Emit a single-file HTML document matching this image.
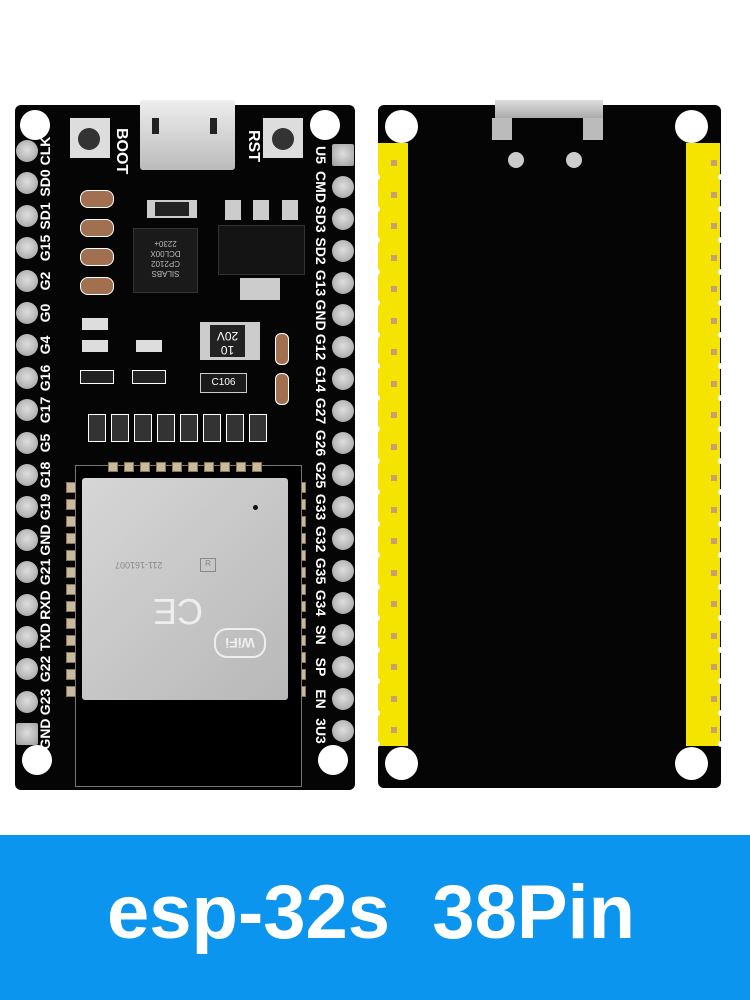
<!DOCTYPE html>
<html><head><meta charset="utf-8"><style>
body{margin:0;width:750px;height:1000px;background:#fff;position:relative;overflow:hidden;font-family:"Liberation Sans",sans-serif}
.a{position:absolute}
.board{background:#050505;border-radius:6px}
.hole{position:absolute;width:30px;height:30px;border-radius:50%;background:#fff}
.pin{position:absolute;width:22px;height:22px;border-radius:50%;background:radial-gradient(circle at 50% 45%,#ddd 0,#c4c4c4 40%,#9a9a9a 100%)}
.lbl{position:absolute;color:#fff;font-weight:bold;font-size:14px;width:40px;height:16px;line-height:16px;text-align:center}
.yl{position:absolute;background:#f5e400}
.sq{position:absolute;width:6px;height:6px;background:#c9a070}
.pad{position:absolute;background:#c8b9a0;border:1px solid #8a7650}
</style></head><body>
<!-- left board -->
<div class="a board" style="left:15px;top:105px;width:340px;height:685px"></div>
<div class="hole" style="left:20px;top:110px"></div>
<div class="hole" style="left:310px;top:110px"></div>
<div class="hole" style="left:22px;top:745px"></div>
<div class="hole" style="left:318px;top:745px"></div>
<!-- usb -->
<div class="a" style="left:140px;top:100px;width:95px;height:70px;background:linear-gradient(#eee,#bbb);border-radius:3px"></div>
<div class="a" style="left:152px;top:118px;width:7px;height:16px;background:#222"></div>
<div class="a" style="left:210px;top:118px;width:7px;height:16px;background:#222"></div>
<!-- buttons -->
<div class="a" style="left:70px;top:118px;width:40px;height:40px;background:#ddd"></div>
<div class="a" style="left:78px;top:128px;width:22px;height:22px;border-radius:50%;background:#333"></div>
<div class="a" style="left:263px;top:118px;width:40px;height:40px;background:#ddd"></div>
<div class="a" style="left:272px;top:128px;width:22px;height:22px;border-radius:50%;background:#333"></div>
<div class="a" style="left:130px;top:128px;color:#fff;font-weight:bold;font-size:16px;transform:rotate(90deg);transform-origin:left top">BOOT</div>
<div class="a" style="left:262px;top:130px;color:#fff;font-weight:bold;font-size:16px;transform:rotate(90deg);transform-origin:left top">RST</div>
<!-- chips -->
<div class="a" style="left:133px;top:228px;width:65px;height:65px;background:#1a1a1a;border:1px solid #333;color:#bbb;font-size:8px;line-height:10px;text-align:center;padding-top:14px;box-sizing:border-box;transform:rotate(180deg)">SILABS<br>CP2102<br>DCL00X<br>2230+</div>
<div class="a" style="left:218px;top:225px;width:85px;height:48px;background:#141414;border:1px solid #333"></div>
<div class="a" style="left:225px;top:200px;width:16px;height:20px;background:#ccc"></div>
<div class="a" style="left:253px;top:200px;width:16px;height:20px;background:#ccc"></div>
<div class="a" style="left:282px;top:200px;width:16px;height:20px;background:#ccc"></div>
<div class="a" style="left:240px;top:278px;width:40px;height:22px;background:#ccc"></div>
<div class="a" style="left:200px;top:322px;width:60px;height:38px;background:#ccc"></div>
<div class="a" style="left:210px;top:325px;width:35px;height:32px;background:#222;color:#fff;font-size:12px;line-height:14px;text-align:center;transform:rotate(180deg)">10<br>20V</div>
<div class="a" style="left:200px;top:373px;width:45px;height:18px;background:#1a1a1a;border:1px solid #ccc;color:#fff;font-size:10px;line-height:18px;text-align:center">C106</div>
<div class="a" style="left:147px;top:200px;width:50px;height:18px;background:#ccc"></div>
<div class="a" style="left:155px;top:202px;width:34px;height:14px;background:#222"></div>
<div id="comps"></div>
<!-- module -->
<div class="a" style="left:75px;top:465px;width:225px;height:320px;border:1px solid #777;background:#000"></div>
<div class="a" style="left:82px;top:478px;width:206px;height:222px;background:linear-gradient(135deg,#d6d6d6,#b8b8b8);border-radius:3px"></div>
<div class="a" style="left:200px;top:558px;width:14px;height:12px;border:1px solid #888;font-size:8px;color:#888;text-align:center">R</div>
<div class="a" style="left:115px;top:560px;font-size:9px;color:#888;transform:rotate(180deg)">211-161007</div>
<div class="a" style="left:153px;top:590px;font-size:36px;color:#eee;transform:rotate(180deg)">CE</div>
<div class="a" style="left:214px;top:628px;width:48px;height:26px;border-radius:13px;border:2px solid #eee;color:#eee;font-size:14px;font-weight:bold;text-align:center;line-height:26px;transform:rotate(180deg)">WiFi</div>
<div class="a" style="left:253px;top:505px;width:5px;height:5px;border-radius:50%;background:#111"></div>
<!-- right board -->
<div class="a board" style="left:378px;top:105px;width:343px;height:683px"></div>
<div class="hole" style="left:385px;top:110px;width:33px;height:33px"></div>
<div class="hole" style="left:675px;top:110px;width:33px;height:33px"></div>
<div class="hole" style="left:385px;top:747px;width:33px;height:33px"></div>
<div class="hole" style="left:675px;top:747px;width:33px;height:33px"></div>
<div class="a" style="left:495px;top:100px;width:108px;height:18px;background:linear-gradient(#ddd,#aaa)"></div>
<div class="a" style="left:492px;top:118px;width:20px;height:22px;background:#bbb"></div>
<div class="a" style="left:583px;top:118px;width:20px;height:22px;background:#bbb"></div>
<div class="a" style="left:508px;top:152px;width:16px;height:16px;border-radius:50%;background:#ccc"></div>
<div class="a" style="left:566px;top:152px;width:16px;height:16px;border-radius:50%;background:#ccc"></div>
<div class="yl" style="left:378px;top:143px;width:30px;height:603px"></div>
<div class="yl" style="left:686px;top:143px;width:34px;height:603px"></div>
<div id="pins"></div>
<!-- banner -->
<div class="a" style="left:0;top:835px;width:750px;height:165px;background:#0b95ef"></div>
<div class="a" style="left:107px;top:868px;color:#fff;font-weight:bold;font-size:76px;line-height:90px;white-space:pre">esp-32s  38Pin</div>
<script>
var L=["CLK","SD0","SD1","G15","G2","G0","G4","G16","G17","G5","G18","G19","GND","G21","RXD","TXD","G22","G23","GND"];
var R=["U5","CMD","SD3","SD2","G13","GND","G12","G14","G27","G26","G25","G33","G32","G35","G34","SN","SP","EN","3U3"];
var h="";
for(var i=0;i<19;i++){
 var yl=151+i*32.4, yr=155+i*32;
 h+='<div class="pin" style="left:16px;top:'+(yl-11)+'px'+(i==18?';border-radius:2px':'')+'"></div>';
 h+='<div class="lbl" style="left:25px;top:'+(yl-8)+'px;transform:rotate(-90deg)">'+L[i]+'</div>';
 h+='<div class="pin" style="left:332px;top:'+(yr-11)+'px'+(i==0?';border-radius:2px':'')+'"></div>';
 h+='<div class="lbl" style="left:301px;top:'+(yr-8)+'px;transform:rotate(90deg)">'+R[i]+'</div>';
 var yy=160+i*31.5;
 h+='<div class="sq" style="left:391px;top:'+(yy)+'px"></div>';
 h+='<div class="sq" style="left:711px;top:'+(yy)+'px"></div>';
 h+='<div class="a" style="left:374px;top:'+(yy+14)+'px;width:6px;height:6px;background:#fff;border-radius:50%"></div>';
 h+='<div class="a" style="left:718px;top:'+(yy+14)+'px;width:6px;height:6px;background:#fff;border-radius:50%"></div>';
}
for(var k=0;k<10;k++){
 h+='<div class="pad" style="left:'+(108+k*16)+'px;top:462px;width:8px;height:8px"></div>';
}
document.getElementById('pins').innerHTML=h;
var c="";
for(var k=0;k<13;k++){
 c+='<div class="pad" style="left:66px;top:'+(482+k*17)+'px;width:9px;height:9px"></div>';
 c+='<div class="pad" style="left:295px;top:'+(482+k*17)+'px;width:9px;height:9px"></div>';
}
for(var k=0;k<4;k++){c+='<div class="a" style="left:80px;top:'+(190+k*29)+'px;width:32px;height:16px;border:1px solid #fff;border-radius:8px;background:#a07050"></div>';}
for(var k=0;k<8;k++){c+='<div class="a" style="left:'+(88+k*23)+'px;top:414px;width:16px;height:26px;border:1px solid #fff;background:#333"></div>';}
c+='<div class="a" style="left:82px;top:318px;width:26px;height:12px;background:#ddd"></div>';
c+='<div class="a" style="left:82px;top:340px;width:26px;height:12px;background:#ddd"></div>';
c+='<div class="a" style="left:136px;top:340px;width:26px;height:12px;background:#ddd"></div>';
c+='<div class="a" style="left:80px;top:370px;width:32px;height:12px;background:#222;border:1px solid #fff"></div>';
c+='<div class="a" style="left:132px;top:370px;width:32px;height:12px;background:#222;border:1px solid #fff"></div>';
c+='<div class="a" style="left:275px;top:333px;width:12px;height:30px;border:1px solid #fff;border-radius:6px;background:#a07050"></div>';
c+='<div class="a" style="left:275px;top:373px;width:12px;height:30px;border:1px solid #fff;border-radius:6px;background:#a07050"></div>';
document.getElementById('comps').innerHTML=c;
</script>
</body></html>
